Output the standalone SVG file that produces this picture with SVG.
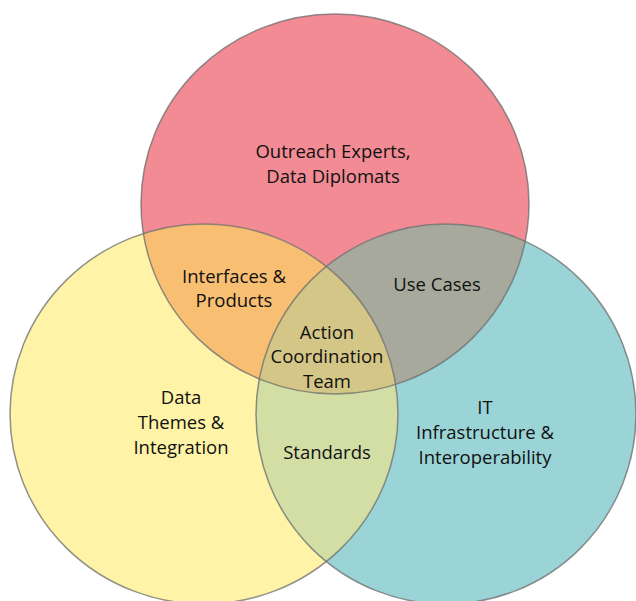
<svg xmlns="http://www.w3.org/2000/svg" xmlns:xlink="http://www.w3.org/1999/xlink" width="636" height="601" viewBox="0 0 636 601">
  <style>
    .pink { fill: #F28B94; }
    .yellow { fill: #FEF3A7; }
    .teal { fill: #9BD4D7; }
    .py { fill: #F8BF73; }
    .pt { fill: #A8A99D; }
    .yt { fill: #D3DEA4; }
    .pyt { fill: #D4C686; }
    .edge { fill: none; stroke: #6E6E6E; stroke-opacity: 0.75; stroke-width: 1.5; }
    .lbl { font-family: "Open Sans", "Liberation Sans", sans-serif; font-size: 18.5px; fill: #111; text-anchor: middle; }
  </style>
  <defs>
    <ellipse id="eP" cx="335" cy="204" rx="194" ry="190"/>
    <ellipse id="eY" cx="204" cy="414" rx="194" ry="190"/>
    <ellipse id="eT" cx="446" cy="414" rx="190" ry="190"/>
    <clipPath id="cP"><use xlink:href="#eP"/></clipPath>
    <clipPath id="cY"><use xlink:href="#eY"/></clipPath>
    <clipPath id="cT"><use xlink:href="#eT"/></clipPath>
  </defs>
  <rect width="636" height="601" fill="#FFFFFF"/>

  <g id="outreach">
    <use xlink:href="#eP" class="pink"/>
  </g>
  <g id="data-themes">
    <use xlink:href="#eY" class="yellow"/>
  </g>
  <g id="it-infrastructure">
    <use xlink:href="#eT" class="teal"/>
  </g>
  <g id="interfaces-products" clip-path="url(#cP)">
    <use xlink:href="#eY" class="py"/>
  </g>
  <g id="use-cases" clip-path="url(#cP)">
    <use xlink:href="#eT" class="pt"/>
  </g>
  <g id="standards" clip-path="url(#cY)">
    <use xlink:href="#eT" class="yt"/>
  </g>
  <g id="action-team" clip-path="url(#cY)">
    <g clip-path="url(#cP)">
      <use xlink:href="#eT" class="pyt"/>
    </g>
  </g>

  <g id="outlines">
    <use xlink:href="#eP" class="edge"/>
    <use xlink:href="#eY" class="edge"/>
    <use xlink:href="#eT" class="edge"/>
  </g>

  <g id="labels">
    <text class="lbl" x="333" y="158">Outreach Experts,</text>
    <text class="lbl" x="333" y="183">Data Diplomats</text>
    <text class="lbl" x="234" y="283">Interfaces &amp;</text>
    <text class="lbl" x="234" y="307">Products</text>
    <text class="lbl" x="437" y="291">Use Cases</text>
    <text class="lbl" x="327" y="339">Action</text>
    <text class="lbl" x="327" y="363">Coordination</text>
    <text class="lbl" x="327" y="388">Team</text>
    <text class="lbl" x="181" y="404">Data</text>
    <text class="lbl" x="181" y="429">Themes &amp;</text>
    <text class="lbl" x="181" y="454">Integration</text>
    <text class="lbl" x="327" y="459">Standards</text>
    <text class="lbl" x="485" y="414">IT</text>
    <text class="lbl" x="485" y="439">Infrastructure &amp;</text>
    <text class="lbl" x="485" y="464">Interoperability</text>
  </g>
</svg>
